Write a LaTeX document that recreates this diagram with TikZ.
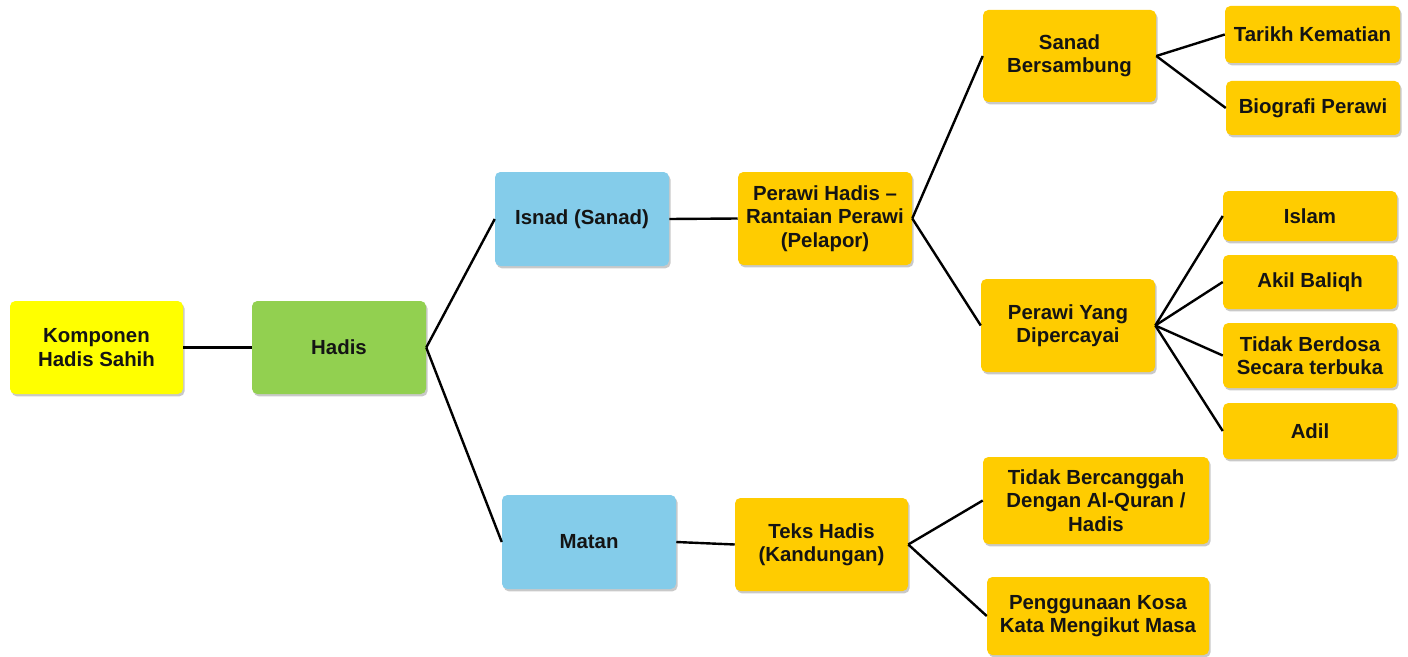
\documentclass[tikz,border=0pt]{standalone}
\usepackage{fontspec}
\setmainfont{Liberation Sans}
\usetikzlibrary{shadows}
\definecolor{cyel}{HTML}{FFFF00}
\definecolor{cgreen}{HTML}{92D050}
\definecolor{cblue}{HTML}{84CCEA}
\definecolor{cgold}{HTML}{FFCC00}
\tikzset{
  box/.style={rounded corners=4pt, align=center, inner sep=1pt,
    font=\bfseries\fontsize{15.3}{17.6}\selectfont, text=black!92,
    drop shadow={shadow xshift=1.2pt, shadow yshift=-1.8pt, opacity=0.35, fill=black!60}},
  conn/.style={line width=1.8pt, black}
}
\begin{document}
\begin{tikzpicture}[x=0.75pt,y=-0.75pt]
\useasboundingbox[fill=white] (0,0) rectangle (1408,656);
\node[box, fill=cyel, minimum width=129.75pt, minimum height=69.75pt] (komp) at (96.5,347.5) {Komponen\\Hadis Sahih};
\node[box, fill=cgreen, minimum width=130.5pt, minimum height=69.75pt] (hadis) at (339,347.5) {Hadis};
\node[box, fill=cblue, minimum width=130.5pt, minimum height=70.5pt] (isnad) at (582,219) {Isnad (Sanad)};
\node[box, fill=cblue, minimum width=130.5pt, minimum height=70.5pt] (matan) at (589,542) {Matan};
\node[box, fill=cgold, minimum width=130.5pt, minimum height=69.75pt] (perawi) at (825,218.5) {Perawi Hadis –\\Rantaian Perawi\\(Pelapor)};
\node[box, fill=cgold, minimum width=129.75pt, minimum height=69.75pt] (teks) at (821.5,544.5) {Teks Hadis\\(Kandungan)};
\node[box, fill=cgold, minimum width=129.75pt, minimum height=69pt] (sanad) at (1069.5,56) {Sanad\\Bersambung};
\node[box, fill=cgold, minimum width=130.5pt, minimum height=69.75pt] (yang) at (1068,325.5) {Perawi Yang\\Dipercayai};
\node[box, fill=cgold, minimum width=169.5pt, minimum height=65.25pt] (bercanggah) at (1096,500.5) {Tidak Bercanggah\\Dengan Al-Quran /\\Hadis};
\node[box, fill=cgold, minimum width=166.5pt, minimum height=58.5pt] (pengguna) at (1098,616) {Penggunaan Kosa\\Kata Mengikut Masa};
\node[box, fill=cgold, minimum width=131.25pt, minimum height=42.75pt] (tarikh) at (1312.5,34.5) {Tarikh Kematian};
\node[box, fill=cgold, minimum width=130.5pt, minimum height=40.5pt] (bio) at (1313,108) {Biografi Perawi};
\node[box, fill=cgold, minimum width=130.5pt, minimum height=37.5pt] (islam) at (1310,216) {Islam};
\node[box, fill=cgold, minimum width=130.5pt, minimum height=40.5pt] (akil) at (1310,282) {Akil Baliqh};
\node[box, fill=cgold, minimum width=130.5pt, minimum height=48.75pt] (dosa) at (1310,355.5) {Tidak Berdosa\\Secara terbuka};
\node[box, fill=cgold, minimum width=130.5pt, minimum height=42pt] (adil) at (1310,431) {Adil};

\draw[conn] (komp.east) -- (hadis.west);
\draw[conn] (hadis.east) -- (isnad.west);
\draw[conn] (hadis.east) -- (matan.west);
\draw[conn] (isnad.east) -- (perawi.west);
\draw[conn] (matan.east) -- (teks.west);
\draw[conn] (perawi.east) -- (sanad.west);
\draw[conn] (perawi.east) -- (yang.west);
\draw[conn] (sanad.east) -- (tarikh.west);
\draw[conn] (sanad.east) -- (bio.west);
\draw[conn] (yang.east) -- (islam.west);
\draw[conn] (yang.east) -- (akil.west);
\draw[conn] (yang.east) -- (dosa.west);
\draw[conn] (yang.east) -- (adil.west);
\draw[conn] (teks.east) -- (bercanggah.west);
\draw[conn] (teks.east) -- (pengguna.west);
\end{tikzpicture}
\end{document}
